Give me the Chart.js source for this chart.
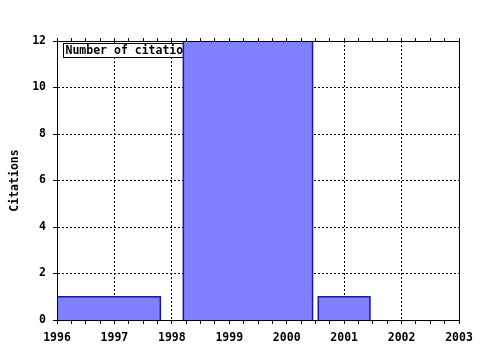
<!DOCTYPE html>
<html>
<head>
<meta charset="utf-8">
<script src="https://cdn.jsdelivr.net/npm/chart.js@4"></script>
<style>
  html, body { margin: 0; padding: 0; background: #fff; }
  #c { display: block; }
</style>
</head>
<body>
<canvas id="c" width="480" height="350"></canvas>
<script>
// ---- data ----
const binStart  = [1996, 1998.2, 2000.55];
const binEnd    = [1997.8, 2000.45, 2001.45];
const citations = [1, 12, 1];
const seriesLabel = 'Number of citations';
const yTitle = 'Citations';
const xMin = 1996, xMax = 2003;
const yMin = 0, yMax = 12, yStep = 2;

const FONT = 'DejaVu Sans Mono';
const tickFont = { family: FONT, size: 11.5, weight: 'bold' };

const datasets = citations.map((v, i) => ({
  type: 'line',
  label: seriesLabel,
  data: [
    { x: binStart[i], y: 0 },
    { x: binStart[i], y: v },
    { x: binEnd[i], y: v },
    { x: binEnd[i], y: 0 }
  ],
  fill: 'origin',
  backgroundColor: '#8080ff',
  borderColor: '#1818a0',
  borderWidth: 1.5,
  pointRadius: 0,
  tension: 0
}));

const legendBehind = {
  id: 'legendBehind',
  beforeDatasetsDraw(chart) {
    const ctx = chart.ctx, a = chart.chartArea;
    ctx.save();
    ctx.font = 'bold 11.5px "' + FONT + '"';
    const w = ctx.measureText(seriesLabel).width + 4;
    const x = a.left + 6.5, y = a.top + 2.5, h = 14;
    ctx.fillStyle = '#fff';
    ctx.fillRect(x, y, w, h);
    ctx.strokeStyle = '#000';
    ctx.lineWidth = 1;
    ctx.strokeRect(x, y, w, h);
    ctx.fillStyle = '#000';
    ctx.textBaseline = 'middle';
    ctx.fillText(seriesLabel, x + 2, y + h / 2 + 1);
    ctx.restore();
  },
  afterDatasetsDraw(chart) {
    const ctx = chart.ctx, a = chart.chartArea;
    ctx.save();
    ctx.strokeStyle = '#000';
    ctx.lineWidth = 1;
    ctx.strokeRect(Math.round(a.left) + 0.5, Math.round(a.top) + 0.5,
                   Math.round(a.right - a.left), Math.round(a.bottom - a.top));
    ctx.restore();
  }
};

new Chart(document.getElementById('c'), {
  type: 'scatter',
  data: { datasets },
  options: {
    responsive: false,
    animation: false,
    devicePixelRatio: 1,
    layout: { padding: { left: 0, right: 21, top: 0, bottom: 0 } },
    plugins: { legend: { display: false }, tooltip: { enabled: false } },
    scales: {
      x: {
        type: 'linear', position: 'bottom', min: xMin, max: xMax,
        afterFit(s) { s.height = 30; },
        ticks: {
          stepSize: 0.25, color: '#000', font: tickFont, padding: 7, maxRotation: 0, autoSkip: false,
          callback: v => Number.isInteger(v) ? String(v) : ''
        },
        grid: {
          color: c => (c.tick && Number.isInteger(c.tick.value) && c.tick.value !== xMin && c.tick.value !== xMax) ? '#000' : 'rgba(0,0,0,0)',
          tickColor: '#000', tickLength: 4, tickBorderDash: [], lineWidth: 1
        },
        border: { display: true, color: '#000', dash: [2, 2] }
      },
      x2: {
        type: 'linear', position: 'top', min: xMin, max: xMax,
        afterFit(s) { s.height = 41; },
        ticks: { stepSize: 0.25, display: false },
        grid: { drawOnChartArea: false, tickLength: 3, tickColor: '#000', color: '#000' },
        border: { display: true, color: '#000' }
      },
      y: {
        min: yMin, max: yMax,
        afterFit(s) { s.width = 57; },
        ticks: { stepSize: yStep, color: '#000', font: tickFont, padding: 7 },
        grid: {
          color: c => (c.tick && c.tick.value !== yMin && c.tick.value !== yMax) ? '#000' : 'rgba(0,0,0,0)',
          tickColor: '#000', tickLength: 4, tickBorderDash: []
        },
        border: { display: true, color: '#000', dash: [2, 2] },
        title: { display: true, text: yTitle, color: '#000', font: tickFont, padding: { top: 8, bottom: 0 } }
      }
    }
  },
  plugins: [legendBehind]
});
</script>
</body>
</html>
